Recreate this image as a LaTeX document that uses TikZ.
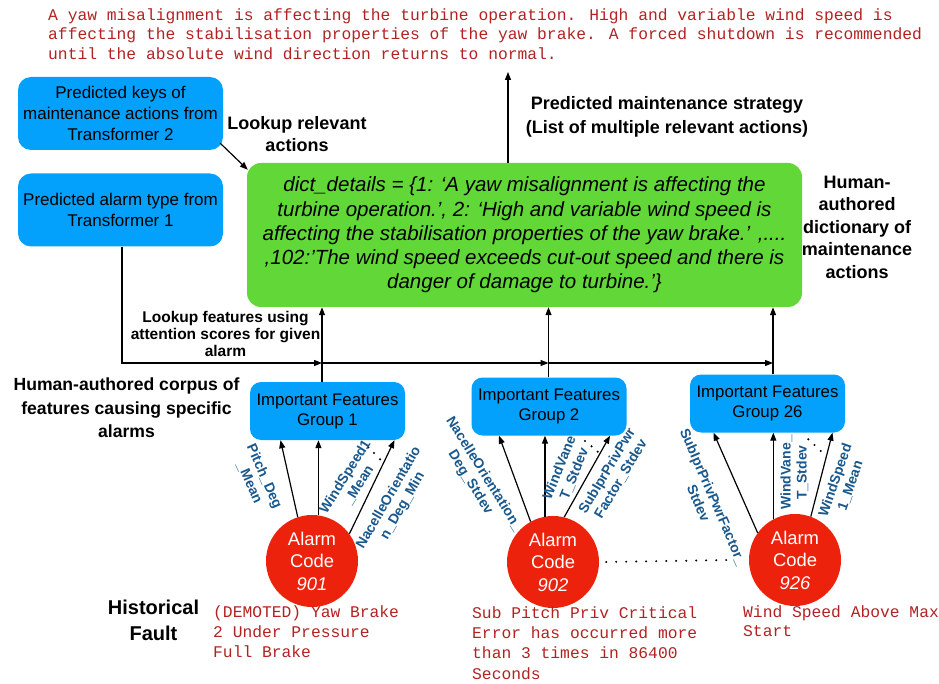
\documentclass[tikz,border=0pt]{standalone}
\usepackage{fontspec}
\setmainfont{Liberation Sans}
\newfontfamily\monofam{Liberation Mono}
\usetikzlibrary{arrows.meta,calc}
\definecolor{boxblue}{RGB}{3,161,252}
\definecolor{boxgreen}{RGB}{98,216,56}
\definecolor{alarmred}{RGB}{237,34,13}
\definecolor{courred}{RGB}{178,34,34}
\definecolor{lblblue}{RGB}{25,88,140}
\begin{document}
\begin{tikzpicture}[x=1pt,y=-1pt,
  arr/.style={-{Triangle[length=8pt,width=6pt]}, line width=1.2pt},
  bluebox/.style={rectangle, rounded corners=13pt, fill=boxblue, minimum width=205pt, minimum height=73pt, align=center, inner sep=0pt, font=\fontsize{17}{21}\selectfont},
  greenbox/.style={rectangle, rounded corners=14pt, fill=boxgreen, minimum width=555pt, minimum height=144pt, align=center, inner sep=0pt, font=\itshape\fontsize{20.5}{24.2}\selectfont},
  grpbox/.style={rectangle, rounded corners=11pt, fill=boxblue, minimum width=155pt, minimum height=58pt, align=center, inner sep=0pt, font=\fontsize{16.8}{20}\selectfont},
  alarm/.style={circle, fill=alarmred, minimum size=92pt, inner sep=0pt, text=white, align=center, font=\fontsize{18.4}{22.5}\selectfont},
  feat/.style={text=lblblue, align=center, inner sep=0pt, font=\bfseries\fontsize{14}{16}\selectfont},
  lbl/.style={align=center, inner sep=0pt, font=\bfseries\fontsize{18}{22.5}\selectfont},
  mono/.style={anchor=base west, inner sep=0pt, text=courred, font=\monofam\fontsize{16.3}{19.5}\selectfont},
  dotline/.style={line width=2.2pt, line cap=round, dash pattern=on 0pt off 10pt}
]
\useasboundingbox (0,0) rectangle (939,684);

% top output text
\node[mono] (top1) at (48,20.7) {A yaw misalignment is affecting the turbine operation. High and variable wind speed is};
\node[mono] (top2) at (48,40) {affecting the stabilisation properties of the yaw brake. A forced shutdown is recommended};
\node[mono] (top3) at (48,59.3) {until the absolute wind direction returns to normal.};

% input boxes
\node[bluebox] (keys) at (120.5,113.5) {Predicted keys of\\maintenance actions from\\Transformer 2};
\node[bluebox] (alarmtype) at (120.5,210) {Predicted alarm type from\\Transformer 1};

% dictionary
\node[greenbox] (dict) at (524.5,235) {dict\_details = \{1: ‘A yaw misalignment is affecting the\\turbine operation.’, 2: ‘High and variable wind speed is\\affecting the stabilisation properties of the yaw brake.’ ,....\\,102:’The wind speed exceeds cut-out speed and there is\\danger of damage to turbine.’\}};

\node[lbl] (lookup) at (297,134) {Lookup relevant\\actions};
\node[lbl, font=\bfseries\fontsize{18}{24}\selectfont] (strat) at (667,117) {Predicted maintenance strategy\\(List of multiple relevant actions)};
\node[lbl] (dictlbl) at (857,227) {Human-\\authored\\dictionary of\\maintenance\\actions};
\node[lbl, font=\bfseries\fontsize{15.5}{17}\selectfont] (lookfeat) at (225.5,334) {Lookup features using\\attention scores for given\\alarm};
\node[lbl, font=\bfseries\fontsize{17.6}{23.5}\selectfont] (corpus) at (126.5,408) {Human-authored corpus of\\features causing specific\\alarms};

% arrows top
\coordinate (stratTip) at (508,72);
\draw[arr] (dict.north -| stratTip) -- (stratTip);
\draw[arr] ([shift={(-3,-7)}]keys.south east) -- ([shift={(1,7)}]dict.north west);

% feature groups
\node[grpbox] (g1) at (327.5,411) {Important Features\\Group 1};
\node[grpbox] (g2) at (549,406.5) {Important Features\\Group 2};
\node[grpbox] (g26) at (767.5,403.5) {Important Features\\Group 26};

\coordinate (j1) at (322,363);
\coordinate (j2) at (548.5,363);
\coordinate (j26) at (773,363);
\draw[arr] (g1.north -| j1) -- (dict.south -| j1);
\draw[arr] (g2.north -| j2) -- (dict.south -| j2);
\draw[arr] (g26.north -| j26) -- (dict.south -| j26);
\draw[arr] (alarmtype.south -| 122,0) |- (j1);
\draw[arr] (j1) -- (j2);
\draw[arr] (j2) -- (j26);

% alarms
\node[alarm] (c1) at (312,561) {Alarm\\Code\\\textit{901}};
\node[alarm] (c2) at (553,562) {Alarm\\Code\\\textit{902}};
\node[alarm] (c3) at (795,560) {Alarm\\Code\\\textit{926}};
\draw[dotline] ([xshift=7pt]c2.east) -- ([xshift=-19pt]c3.west);

% arrows alarm -> groups
\draw[arr] (c1.108) -- ([xshift=-47pt]g1.south);
\draw[arr] (c1.82) -- (c1.82 |- g1.south);
\draw[arr] (c1.36) -- ([xshift=67pt]g1.south);
\draw[arr] (c2.119) -- ([xshift=-50pt]g2.south);
\draw[arr] (c2.100) -- (c2.100 |- g2.south);
\draw[arr] (c2.76) -- ([xshift=61pt]g2.south);
\draw[arr] (c3.144) -- ([xshift=-54pt]g26.south);
\draw[arr] (c3.118) -- (c3.118 |- g26.south);
\draw[arr] (c3.70) -- ([xshift=65pt]g26.south);

% ellipsis dots
\foreach \p in {(368.3,447.3),(374,453),(380,459.3),(585,441),(591.5,446.3),(597.7,451.7),(808.3,439.3),(814.5,445),(820.7,451)}
  \fill \p circle (1.2);

% feature labels
\node[feat, rotate=-66] (f11) at (257,479.5) {Pitch\_Deg\\\_Mean};
\node[feat, rotate=58] (f12) at (352,481) {WindSpeed1\\\_Mean};
\node[feat, rotate=60] (f13) at (396,502) {NacelleOrientatio\\n\_Deg\_Min};
\node[feat, rotate=-58] (f21) at (477,478.5) {NacelleOrientation\_\\Deg\_Stdev};
\node[feat, rotate=68] (f22) at (567,471) {WindVane\\T\_Stdev};
\node[feat, rotate=59] (f23) at (614,475) {SubIprPrivPwr\\Factor\_Stdev};
\node[feat, rotate=-66.6] (f31) at (706,500) {SubIprPrivPwrFactor\_\\Stdev};
\node[feat, rotate=90] (f32) at (794.5,472.5) {WindVane\_\\T\_Stdev};
\node[feat, rotate=71] (f33) at (843,483) {WindSpeed\\1\_Mean};

% bottom
\node[lbl, font=\bfseries\fontsize{20}{26}\selectfont] (hist) at (153.5,620) {Historical\\Fault};
\node[mono] (d1) at (213,617.7) {(DEMOTED) Yaw Brake};
\node[mono] (d2) at (213,637.3) {2 Under Pressure};
\node[mono] (d3) at (213,657) {Full Brake};
\node[mono] (e1) at (472,618.3) {Sub Pitch Priv Critical};
\node[mono] (e2) at (472,638.6) {Error has occurred more};
\node[mono] (e3) at (472,658.9) {than 3 times in 86400};
\node[mono] (e4) at (472,679) {Seconds};
\node[mono] (w1) at (743,617.3) {Wind Speed Above Max};
\node[mono] (w2) at (743,636.7) {Start};
\end{tikzpicture}
\end{document}
